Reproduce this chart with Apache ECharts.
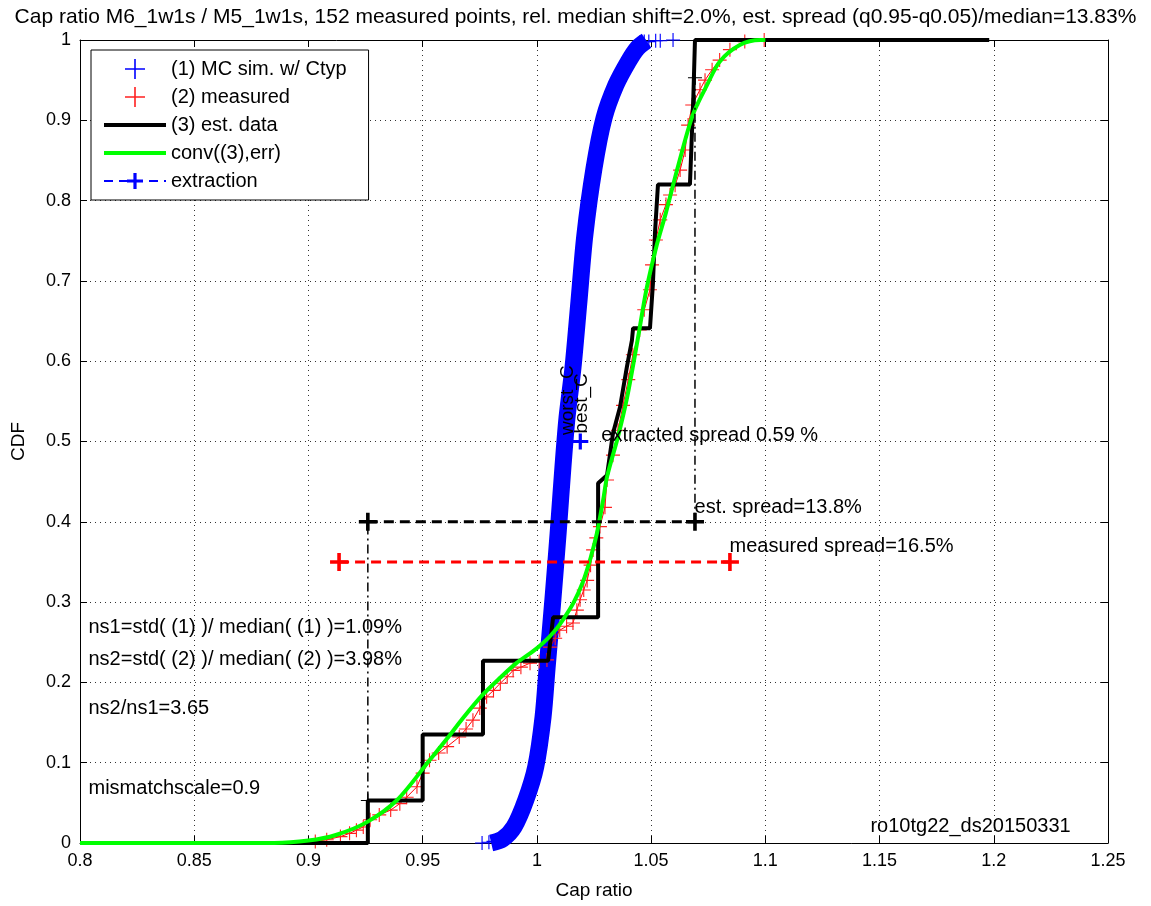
<!DOCTYPE html>
<html>
<head>
<meta charset="utf-8">
<script src="https://cdn.jsdelivr.net/npm/echarts@6/dist/echarts.min.js"></script>
<style>
    html, body { margin: 0; padding: 0; background: #fff; }
    #chart { width: 1151px; height: 906px; }
</style>
</head>
<body>
<div id="chart"></div>
<script>
// ---- data ----
// (1) MC sim, centre of the dense blue band of markers
const mcX = [0.980, 0.985, 0.990, 0.9952, 0.9995, 1.0027, 1.0045, 1.007, 1.0093, 1.0114, 1.0132, 1.0158, 1.0184, 1.021, 1.025, 1.0294, 1.0346, 1.040, 1.044, 1.048];
const mcY = [0.0, 0.005, 0.02, 0.054, 0.095, 0.157, 0.219, 0.303, 0.386, 0.468, 0.53, 0.592, 0.674, 0.757, 0.84, 0.903, 0.944, 0.973, 0.99, 0.999];
// sparse MC markers in the tails
const mcTailX = [0.976, 0.979, 0.981, 0.983, 0.986, 1.045, 1.047, 1.049, 1.052, 1.054, 1.0596];
const mcTailY = [0.0, 0.001, 0.002, 0.003, 0.004, 0.997, 0.998, 0.998, 0.999, 0.999, 1.0];

// (2) measured
const measX = [0.903, 0.908, 0.914, 0.918, 0.921, 0.924, 0.927, 0.931, 0.936, 0.940, 0.943, 0.9475, 0.950, 0.953, 0.957, 0.9607, 0.966, 0.969, 0.972, 0.975, 0.978, 0.981, 0.984, 0.987, 0.9896, 0.993, 0.997, 1.001, 1.0044, 1.0057, 1.008, 1.010, 1.013, 1.0158, 1.0175, 1.0189, 1.0205, 1.022, 1.0235, 1.0246, 1.026, 1.0276, 1.0298, 1.0307, 1.0333, 1.0355, 1.0377, 1.040, 1.042, 1.045, 1.047, 1.0495, 1.0504, 1.0521, 1.054, 1.0565, 1.0583, 1.0605, 1.0627, 1.0649, 1.0662, 1.068, 1.0714, 1.0736, 1.0767, 1.080, 1.0845, 1.091, 1.0995];
const measY = [0.002, 0.004, 0.008, 0.012, 0.016, 0.02, 0.029, 0.035, 0.041, 0.049, 0.057, 0.07, 0.087, 0.103, 0.112, 0.12, 0.132, 0.142, 0.153, 0.168, 0.182, 0.19, 0.199, 0.207, 0.215, 0.219, 0.224, 0.226, 0.228, 0.244, 0.255, 0.265, 0.27, 0.274, 0.29, 0.303, 0.315, 0.327, 0.346, 0.365, 0.38, 0.394, 0.418, 0.452, 0.483, 0.514, 0.545, 0.577, 0.608, 0.639, 0.664, 0.689, 0.72, 0.751, 0.776, 0.795, 0.807, 0.819, 0.838, 0.863, 0.894, 0.919, 0.938, 0.95, 0.963, 0.975, 0.988, 0.998, 1.0];

// (3) est. data (step CDF)
const estX = [0.8, 0.926, 0.926, 0.950, 0.950, 0.9764, 0.9764, 1.0049, 1.0071, 1.0268, 1.0268, 1.0307, 1.0333, 1.0364, 1.0394, 1.0416, 1.0421, 1.0495, 1.0508, 1.0517, 1.053, 1.067, 1.0685, 1.0692, 1.198];
const estY = [0, 0, 0.053, 0.053, 0.135, 0.135, 0.227, 0.227, 0.281, 0.281, 0.448, 0.458, 0.51, 0.543, 0.593, 0.626, 0.641, 0.641, 0.697, 0.76, 0.82, 0.82, 0.93, 1.0, 1.0];

// conv((3),err)
const convX = [0.8, 0.885, 0.9, 0.912, 0.9256, 0.9388, 0.953, 0.9607, 0.9675, 0.9764, 0.984, 0.991, 0.9975, 1.0027, 1.0075, 1.0114, 1.016, 1.020, 1.0235, 1.0263, 1.029, 1.0307, 1.0355, 1.0395, 1.044, 1.048, 1.0525, 1.0565, 1.062, 1.0683, 1.0745, 1.080, 1.089, 1.0977, 1.10];
const convY = [0, 0, 0.003, 0.01, 0.026, 0.0535, 0.103, 0.13, 0.155, 0.185, 0.206, 0.224, 0.237, 0.249, 0.263, 0.278, 0.299, 0.324, 0.355, 0.386, 0.427, 0.456, 0.506, 0.555, 0.625, 0.69, 0.745, 0.785, 0.845, 0.907, 0.944, 0.973, 0.994, 1.0, 1.0];

// extraction / spreads
const extractionPoint = [1.019, 0.5];
const estQuantX = [0.926, 1.0692];     // q0.05, q0.95 of est. data
const estQuantY = [0.053, 0.953];
const estSpreadY = 0.4;
const measSpreadX = [0.9134, 1.0845];
const measSpreadY = 0.35;

const titleText = "Cap ratio M6_1w1s / M5_1w1s, 152 measured points, rel. median shift=2.0%, est. spread (q0.95-q0.05)/median=13.83%";
const notes = [
    { x: 0.8035, y: 0.268, text: "ns1=std( (1) )/ median( (1) )=1.09%" },
    { x: 0.8035, y: 0.228, text: "ns2=std( (2) )/ median( (2) )=3.98%" },
    { x: 0.8035, y: 0.168, text: "ns2/ns1=3.65" },
    { x: 0.8035, y: 0.068, text: "mismatchscale=0.9" },
    { x: 1.028, y: 0.507, text: "extracted spread 0.59 %" },
    { x: 1.0688, y: 0.418, text: "est. spread=13.8%" },
    { x: 1.0841, y: 0.369, text: "measured spread=16.5%" },
    { x: 1.1458, y: 0.02, text: "ro10tg22_ds20150331" },
];
const rotatedNotes = [
    { x: 1.0137, y: 0.508, text: "worst_C" },
    { x: 1.0197, y: 0.51, text: "best_C" },
];

const FONT = "'Liberation Sans', Arial, sans-serif";
const plusThin = "path://M0,4.6H10V5.4H0Z M4.6,0H5.4V10H4.6Z";
const plusBold = "path://M0,4H10V6H0Z M4,0H6V10H4Z";
const lineIcon = "path://M0,0H60V4H0Z";

const zip = (xs, ys) => xs.map((x, i) => [x, ys[i]]);

const chart = echarts.init(document.getElementById("chart"));

const axisCommon = {
    type: "value",
    axisLine: { show: true, onZero: false, lineStyle: { color: "#000", width: 1 } },
    axisTick: { show: true, inside: true, length: 7, lineStyle: { color: "#000" } },
};

const textSeries = (name, list, extraLabel) => ({
    name: name,
    type: "scatter",
    silent: true,
    symbolSize: 1,
    itemStyle: { color: "rgba(0,0,0,0)", opacity: 1 },
    z: 10,
    data: list.map((n) => ({
        value: [n.x, n.y],
        label: Object.assign({
            show: true,
            formatter: n.text,
            color: "#000",
            fontFamily: FONT,
        }, extraLabel),
    })),
});

chart.setOption({
    animation: false,
    backgroundColor: "#fff",
    textStyle: { fontFamily: FONT },
    title: {
        text: titleText,
        left: "center",
        top: 2,
        textStyle: { fontSize: 21, fontWeight: "normal", color: "#000", fontFamily: FONT },
    },
    grid: { left: 80, right: 43, top: 40, bottom: 63 },
    legend: {
        orient: "vertical",
        left: 91,
        top: 50,
        padding: [9, 22, 9, 12],
        itemGap: 8,
        itemWidth: 62,
        itemHeight: 20,
        backgroundColor: "#fff",
        borderColor: "#000",
        borderWidth: 1,
        borderRadius: 0,
        textStyle: { fontSize: 20, color: "#000", fontFamily: FONT },
        data: [
            { name: "(1) MC sim. w/ Ctyp", icon: plusThin },
            { name: "(2) measured", icon: plusThin },
            { name: "(3) est. data", icon: lineIcon },
            { name: "conv((3),err)", icon: lineIcon },
            "extraction",
        ],
    },
    xAxis: [
        {
            ...axisCommon,
            min: 0.8,
            max: 1.25,
            interval: 0.05,
            position: "bottom",
            axisLabel: { fontSize: 18, color: "#000", margin: 9, fontFamily: FONT },
            splitLine: { show: true, lineStyle: { type: [1, 4], color: "#333", width: 1 } },
            name: "Cap ratio",
            nameLocation: "middle",
            nameGap: 38,
            nameTextStyle: { fontSize: 19, color: "#000", fontFamily: FONT },
        },
        {
            ...axisCommon,
            min: 0.8,
            max: 1.25,
            interval: 0.05,
            position: "top",
            axisLabel: { show: false },
            splitLine: { show: false },
        },
    ],
    yAxis: [
        {
            ...axisCommon,
            min: 0,
            max: 1,
            interval: 0.1,
            position: "left",
            axisLabel: { fontSize: 18, color: "#000", margin: 9, fontFamily: FONT },
            splitLine: { show: true, lineStyle: { type: [1, 4], color: "#333", width: 1 } },
            name: "CDF",
            nameLocation: "middle",
            nameGap: 52,
            nameTextStyle: { fontSize: 19, color: "#000", fontFamily: FONT },
        },
        {
            ...axisCommon,
            min: 0,
            max: 1,
            interval: 0.1,
            position: "right",
            axisLabel: { show: false },
            splitLine: { show: false },
        },
    ],
    series: [
        {
            name: "(1) MC sim. w/ Ctyp",
            type: "line",
            data: zip(mcX, mcY),
            symbol: "none",
            smooth: 0.3,
            color: "#0000ff",
            lineStyle: { color: "#0000ff", width: 17, cap: "butt" },
            z: 2,
        },
        {
            name: "(1) MC sim. w/ Ctyp",
            type: "scatter",
            data: zip(mcTailX, mcTailY),
            symbol: plusThin,
            symbolSize: 14,
            itemStyle: { color: "#0000ff", opacity: 1 },
            z: 2,
        },
        {
            name: "(2) measured",
            type: "line",
            data: zip(measX, measY),
            symbol: plusThin,
            symbolSize: 14,
            showSymbol: true,
            color: "#ff0000",
            itemStyle: { color: "#ff2020" },
            lineStyle: { color: "#ff0000", width: 1 },
            z: 3,
        },
        {
            name: "(3) est. data",
            type: "line",
            data: zip(estX, estY),
            symbol: "none",
            color: "#000",
            lineStyle: { color: "#000", width: 4 },
            z: 4,
        },
        {
            name: "conv((3),err)",
            type: "line",
            data: zip(convX, convY),
            symbol: "none",
            smooth: 0.3,
            color: "#00ff00",
            lineStyle: { color: "#00ff00", width: 4 },
            z: 5,
        },
        {
            name: "extraction",
            type: "line",
            data: [extractionPoint],
            symbol: plusBold,
            symbolSize: 16,
            color: "#0000ff",
            itemStyle: { color: "#0000ff" },
            lineStyle: { color: "#0000ff", width: 3, type: [9, 6] },
            z: 6,
        },
        // est. spread: dashed horizontal between q0.05 and q0.95
        {
            name: "est spread",
            type: "line",
            data: [[estQuantX[0], estSpreadY], [estQuantX[1], estSpreadY]],
            symbol: plusBold,
            symbolSize: 18,
            itemStyle: { color: "#000" },
            lineStyle: { color: "#000", width: 3, type: [10, 6] },
            z: 6,
        },
        // measured spread
        {
            name: "measured spread",
            type: "line",
            data: [[measSpreadX[0], measSpreadY], [measSpreadX[1], measSpreadY]],
            symbol: plusBold,
            symbolSize: 18,
            itemStyle: { color: "#ff0000" },
            lineStyle: { color: "#ff0000", width: 3, type: [10, 6] },
            z: 6,
        },
        // dash-dot verticals between the quantiles and the spread line
        {
            name: "q05",
            type: "line",
            data: [[estQuantX[0], estQuantY[0]], [estQuantX[0], estSpreadY]],
            symbol: plusThin,
            symbolSize: 14,
            itemStyle: { color: "#000" },
            lineStyle: { color: "#000", width: 1.5, type: [9, 4, 2, 4] },
            z: 6,
        },
        {
            name: "q95",
            type: "line",
            data: [[estQuantX[1], estSpreadY], [estQuantX[1], estQuantY[1]]],
            symbol: plusThin,
            symbolSize: 14,
            itemStyle: { color: "#000" },
            lineStyle: { color: "#000", width: 1.5, type: [9, 4, 2, 4] },
            z: 6,
        },
        // text annotations anchored in data coordinates
        textSeries("notes", notes, { position: "right", distance: 0, fontSize: 20 }),
        textSeries("rotated notes", rotatedNotes, {
            position: "inside",
            rotate: 90,
            align: "left",
            verticalAlign: "middle",
            fontSize: 19,
        }),
    ],
});
</script>
</body>
</html>
